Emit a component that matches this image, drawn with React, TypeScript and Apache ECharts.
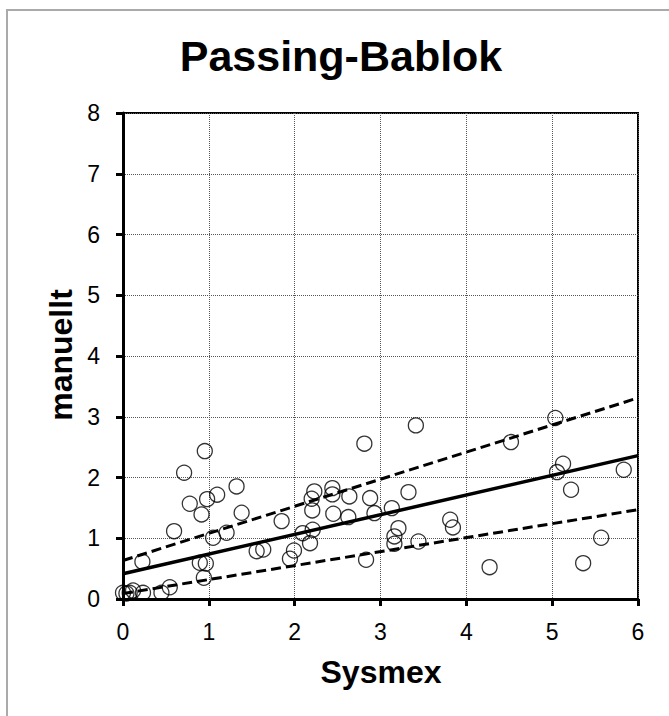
import React, { useEffect, useRef } from "react";
import * as echarts from "echarts";

const titleText = "Passing-Bablok";
const xName = "Sysmex";
const yName = "manuellt";

const xTicks = [0, 1, 2, 3, 4, 5, 6];
const yTicks = [0, 1, 2, 3, 4, 5, 6, 7, 8];

const sysmex = [
  0.953, 0.712, 1.323, 1.097, 0.98, 0.778, 1.382, 0.915, 0.595, 1.207, 1.05, 1.848,
  0.226, 0.895, 0.965, 1.557, 1.634, 0.942, 0.545, 0.448, 0.233, 0.117, 0.078, 0.0, 0.04,
  3.412, 2.812, 3.326, 2.229, 2.439, 2.439, 2.198, 2.637, 2.879, 2.205, 2.45, 2.929,
  3.132, 2.625, 3.812, 3.844, 3.209, 3.162, 3.162, 3.442, 2.21, 2.093, 2.179, 1.992,
  1.945, 2.832,
  5.037, 4.52, 5.127, 5.057, 5.834, 5.22, 5.571, 5.361, 4.271,
];
const manuellt = [
  2.435, 2.079, 1.853, 1.717, 1.644, 1.568, 1.42, 1.392, 1.117, 1.091, 1.008, 1.282,
  0.613, 0.596, 0.585, 0.787, 0.815, 0.349, 0.194, 0.102, 0.102, 0.14, 0.102, 0.102, 0.09,
  2.858, 2.557, 1.759, 1.771, 1.825, 1.722, 1.651, 1.689, 1.661, 1.458, 1.404, 1.414,
  1.496, 1.348, 1.305, 1.178, 1.166, 1.03, 0.91, 0.947, 1.14, 1.084, 0.919, 0.799,
  0.663, 0.646,
  2.979, 2.583, 2.227, 2.089, 2.128, 1.799, 1.008, 0.59, 0.524,
];

// regression line and confidence bounds: [x, y] end points
const fitX = [0, 6];
const fitY = [0.415, 2.36];
const upperY = [0.634, 3.31];
const lowerY = [0.09, 1.47];

const FONT = "'Liberation Sans', Arial, sans-serif";

export default function App() {
  const ref = useRef<HTMLDivElement>(null);
  useEffect(() => {
    if (!ref.current) return;
    const chart = echarts.init(ref.current, null, { renderer: "svg" });
    const pts = sysmex.map((x, i) => [x, manuellt[i]]);
    const line = (ys: number[]) => fitX.map((x, i) => [x, ys[i]]);
    chart.setOption({
      animation: false,
      backgroundColor: "#fff",
      textStyle: { fontFamily: FONT },
      grid: {
        left: 123,
        right: 31,
        top: 113,
        bottom: 117,
        show: true,
        borderColor: "#000",
        borderWidth: 2,
        backgroundColor: "transparent",
      },
      xAxis: {
        type: "value",
        min: xTicks[0],
        max: xTicks[xTicks.length - 1],
        interval: 1,
        axisLine: { show: true, onZero: false, lineStyle: { color: "#000", width: 3 } },
        axisTick: { show: true, inside: false, length: 7, lineStyle: { color: "#000", width: 3 } },
        axisLabel: { color: "#000", fontSize: 23, margin: 21, fontFamily: FONT },
        splitLine: { show: true, lineStyle: { color: "#555", width: 1, type: [1, 1] } },
      },
      yAxis: {
        type: "value",
        min: yTicks[0],
        max: yTicks[yTicks.length - 1],
        interval: 1,
        axisLine: { show: true, onZero: false, lineStyle: { color: "#000", width: 3 } },
        axisTick: { show: true, inside: false, length: 7, lineStyle: { color: "#000", width: 3 } },
        axisLabel: { color: "#000", fontSize: 23, margin: 23, fontFamily: FONT },
        splitLine: { show: true, lineStyle: { color: "#555", width: 1, type: [1, 1] } },
      },
      graphic: [
        {
          type: "rect",
          shape: { x: 7, y: 10, width: 720, height: 760 },
          style: { fill: "none", stroke: "#aaa", lineWidth: 2 },
          silent: true,
          z: -1,
        },
        {
          type: "text",
          x: 341,
          y: 56,
          style: {
            text: titleText,
            font: `bold 43px ${FONT}`,
            fill: "#000",
            align: "center",
            verticalAlign: "middle",
          },
        },
        {
          type: "text",
          x: 381,
          y: 671.5,
          style: {
            text: xName,
            font: `bold 32px ${FONT}`,
            fill: "#000",
            align: "center",
            verticalAlign: "middle",
          },
        },
        {
          type: "text",
          x: 61,
          y: 355,
          rotation: Math.PI / 2,
          style: {
            text: yName,
            font: `bold 32px ${FONT}`,
            fill: "#000",
            align: "center",
            verticalAlign: "middle",
          },
        },
      ],
      series: [
        {
          type: "scatter",
          data: pts,
          symbol: "circle",
          symbolSize: 15,
          itemStyle: { color: "rgba(0,0,0,0)", borderColor: "#000", borderWidth: 1.3 },
          z: 3,
        },
        {
          type: "line",
          data: line(fitY),
          symbol: "none",
          lineStyle: { color: "#000", width: 3.5, type: "solid" },
          z: 4,
        },
        {
          type: "line",
          data: line(upperY),
          symbol: "none",
          lineStyle: { color: "#000", width: 3, type: [10, 5] },
          z: 4,
        },
        {
          type: "line",
          data: line(lowerY),
          symbol: "none",
          lineStyle: { color: "#000", width: 3, type: [10, 5] },
          z: 4,
        },
      ],
    });
    return () => chart.dispose();
  }, []);
  return (
    <div
      ref={ref}
      style={{ position: "absolute", left: 0, top: 0, width: 669, height: 716 }}
    />
  );
}
